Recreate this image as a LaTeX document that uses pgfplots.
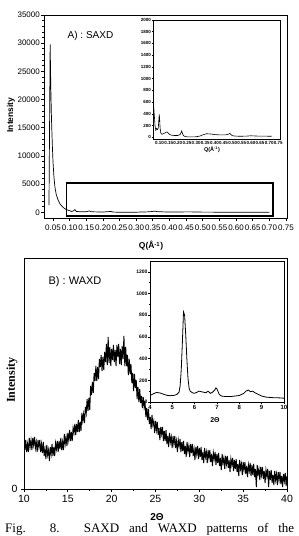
\documentclass[border=0pt]{standalone}
\usepackage{fontspec}
\setmainfont{Liberation Sans}
\newfontfamily\timesfont{Liberation Serif}
\usepackage{pgfplots}
\pgfplotsset{compat=1.18}

\begin{document}
\begin{tikzpicture}[x=1pt,y=1pt]
% ---------------- Panel A : SAXD (main) ----------------
\begin{axis}[
  at={(44pt,318pt)}, anchor=south west, scale only axis,
  width=243pt, height=203pt,
  xmin=0.023, xmax=0.753, ymin=-1000, ymax=35000,
  axis line style={line width=0.9pt},
  tick align=outside, xtick pos=left, ytick pos=left,
  major tick length=3pt, minor tick length=1.6pt,
  every tick/.style={black, line width=0.7pt},
  /pgf/number format/assume math mode=true,
  /pgf/number format/set thousands separator={},
  scaled y ticks=false, scaled x ticks=false,
  ytick={0,5000,10000,15000,20000,25000,30000,35000},
  minor y tick num=4,
  xtick={0.05,0.10,0.15,0.20,0.25,0.30,0.35,0.40,0.45,0.50,0.55,0.60,0.65,0.70,0.75},
  xticklabels={0.05,0.10,0.15,0.20,0.25,0.30,0.35,0.40,0.45,0.50,0.55,0.60,0.65,0.70,0.75},
  tick label style={font=\fontsize{8}{8}\selectfont},
  xticklabel style={inner xsep=0pt},
  yticklabel style={inner xsep=1pt},
]
\addplot[black, line width=0.7pt] coordinates {
(0.038,1300) (0.0415,29800) (0.0435,22000) (0.0455,16500) (0.048,12000) (0.050,9000)
(0.053,6200) (0.056,4400) (0.060,3100) (0.066,2100) (0.072,1400) (0.081,850)
(0.090,480) (0.100,300) (0.105,160) (0.110,220) (0.116,480) (0.120,160)
(0.130,120) (0.150,100) (0.159,260) (0.165,100) (0.200,60) (0.225,160)
(0.230,50) (0.250,20) (0.300,30) (0.340,100) (0.356,220) (0.365,110)
(0.400,60) (0.460,90) (0.500,40) (0.600,30) (0.700,20)};
\addplot[black, line width=1.3pt] coordinates {
(0.090,-650) (0.711,-650) (0.711,5200) (0.090,5200) (0.090,-650)};
\end{axis}
% ---------------- Panel A inset ----------------
\begin{axis}[
  at={(153pt,397pt)}, anchor=south west, scale only axis,
  width=127pt, height=119pt,
  xmin=0.064, xmax=0.759, ymin=-30, ymax=2000,
  axis background/.style={fill=white},
  axis line style={line width=0.9pt},
  tick align=outside, xtick pos=left, ytick pos=left,
  major tick length=1.5pt, minor tick length=0.8pt,
  every tick/.style={black, line width=0.5pt},
  /pgf/number format/assume math mode=true,
  /pgf/number format/set thousands separator={},
  scaled y ticks=false, scaled x ticks=false,
  ytick={0,200,400,600,800,1000,1200,1400,1600,1800,2000},
  xtick={0.10,0.15,0.20,0.25,0.30,0.35,0.40,0.45,0.50,0.55,0.60,0.65,0.70,0.75},
  xticklabels={0.10,0.15,0.20,0.25,0.30,0.35,0.40,0.45,0.50,0.55,0.60,0.65,0.70,0.75},
  tick label style={font=\bfseries\fontsize{4.5}{4.5}\selectfont},
  xticklabel style={inner xsep=0pt, inner ysep=1pt},
  yticklabel style={inner xsep=0.5pt},
]
\addplot[black, line width=0.6pt] coordinates {
(0.065,620) (0.070,430) (0.075,200) (0.079,120) (0.083,150) (0.088,130)
(0.093,160) (0.096,300) (0.098,390) (0.100,330) (0.103,150) (0.107,70)
(0.112,50) (0.120,60) (0.130,75) (0.140,90) (0.148,70) (0.155,45)
(0.166,35) (0.180,30) (0.200,30) (0.212,45) (0.218,80) (0.221,105)
(0.225,70) (0.230,30) (0.240,10) (0.260,5) (0.280,5) (0.300,8)
(0.320,20) (0.340,45) (0.358,60) (0.380,55) (0.403,45) (0.430,40)
(0.460,40) (0.475,50) (0.485,65) (0.492,40) (0.500,25) (0.520,18)
(0.550,17) (0.580,20) (0.600,25) (0.620,22) (0.650,18) (0.680,18) (0.713,17)};
\end{axis}
% labels panel A
\node[font=\fontsize{10}{10}\selectfont] at (90.5pt,500pt) {A) : SAXD};
\node[rotate=90, font=\bfseries\fontsize{8.5}{9}\selectfont] at (11pt,421pt) {Intensity};
\node[font=\bfseries\fontsize{8.5}{9}\selectfont] at (151pt,290pt) {Q(Å\textsuperscript{-1})};
\node[font=\bfseries\fontsize{5.5}{6}\selectfont] at (212pt,386pt) {Q(Å\textsuperscript{-1})};

% ---------------- Panel B : WAXD (main) ----------------
\begin{axis}[
  at={(24pt,47pt)}, anchor=south west, scale only axis,
  width=263pt, height=231pt,
  xmin=10, xmax=40, ymin=0, ymax=231,
  axis line style={line width=0.9pt},
  tick align=outside, xtick pos=left, ytick pos=left,
  major tick length=3pt, minor tick length=2pt,
  every tick/.style={black, line width=0.7pt},
  /pgf/number format/assume math mode=true,
  xtick={10,15,20,25,30,35,40}, minor x tick num=1,
  ytick={0},
  tick label style={font=\fontsize{10.5}{10.5}\selectfont},
]
\addplot[black, line width=0.95pt] coordinates {
(10.0,47) (10.1,39) (10.2,49) (10.3,37) (10.4,45) (10.5,37) (10.6,51) (10.7,42) (10.8,49) (10.9,39)
(11.0,51) (11.1,44) (11.2,52) (11.3,41) (11.4,47) (11.5,37) (11.6,49) (11.7,42) (11.8,49) (11.9,37)
(12.0,45) (12.1,36) (12.2,47) (12.3,33) (12.4,40) (12.5,30) (12.6,44) (12.7,34) (12.8,39) (12.9,28)
(13.0,42) (13.1,35) (13.2,45) (13.3,33) (13.4,42) (13.5,33) (13.6,46) (13.7,40) (13.8,48) (13.9,37)
(14.0,48) (14.1,40) (14.2,51) (14.3,39) (14.4,47) (14.5,39) (14.6,55) (14.7,45) (14.8,52) (14.9,43)
(15.0,56) (15.1,49) (15.2,59) (15.3,48) (15.4,57) (15.5,48) (15.6,61) (15.7,56) (15.8,65) (15.9,54)
(16.0,65) (16.1,57) (16.2,69) (16.3,57) (16.4,67) (16.5,58) (16.6,76) (16.7,68) (16.8,75) (16.9,66)
(17.0,82) (17.1,76) (17.2,90) (17.3,78) (17.4,91) (17.5,79) (17.6,103) (17.7,94) (17.8,107) (17.9,96)
(18.0,116) (18.1,108) (18.2,123) (18.3,108) (18.4,122) (18.5,110) (18.6,130) (18.7,122) (18.8,134) (18.9,118)
(19.0,132) (19.1,119) (19.2,137) (19.3,127) (19.4,145) (19.5,124) (19.6,152) (19.7,126) (19.8,142) (19.9,123)
(20.0,140) (20.1,129) (20.2,144) (20.3,127) (20.4,139) (20.5,123) (20.6,144) (20.7,132) (20.8,145) (20.9,125)
(21.0,140) (21.1,124) (21.2,143) (21.3,130) (21.4,153) (21.5,123) (21.6,142) (21.7,123) (21.8,134) (21.9,114)
(22.0,130) (22.1,115) (22.2,125) (22.3,106) (22.4,116) (22.5,98) (22.6,115) (22.7,101) (22.8,109) (22.9,90)
(23.0,102) (23.1,87) (23.2,100) (23.3,86) (23.4,93) (23.5,81) (23.6,92) (23.7,82) (23.8,88) (23.9,72)
(24.0,81) (24.1,69) (24.2,80) (24.3,65) (24.4,72) (24.5,60) (24.6,74) (24.7,64) (24.8,68) (24.9,56)
(25.0,68) (25.1,59) (25.2,67) (25.3,54) (25.4,61) (25.5,49) (25.6,62) (25.7,55) (25.8,62) (25.9,48)
(26.0,58) (26.1,48) (26.2,59) (26.3,45) (26.4,53) (26.5,42) (26.6,56) (26.7,47) (26.8,52) (26.9,41)
(27.0,53) (27.1,45) (27.2,53) (27.3,41) (27.4,48) (27.5,37) (27.6,49) (27.7,43) (27.8,50) (27.9,37)
(28.0,47) (28.1,38) (28.2,48) (28.3,35) (28.4,43) (28.5,32) (28.6,47) (28.7,38) (28.8,43) (28.9,32)
(29.0,45) (29.1,36) (29.2,45) (29.3,33) (29.4,40) (29.5,29) (29.6,42) (29.7,35) (29.8,43) (29.9,30)
(30.0,41) (30.1,32) (30.2,42) (30.3,29) (30.4,37) (30.5,26) (30.6,41) (30.7,32) (30.8,37) (30.9,26)
(31.0,39) (31.1,31) (31.2,39) (31.3,27) (31.4,35) (31.5,23) (31.6,36) (31.7,30) (31.8,37) (31.9,24)
(32.0,35) (32.1,26) (32.2,36) (32.3,23) (32.4,31) (32.5,19) (32.6,35) (32.7,26) (32.8,31) (32.9,20)
(33.0,33) (33.1,25) (33.2,33) (33.3,21) (33.4,29) (33.5,17) (33.6,30) (33.7,24) (33.8,31) (33.9,18)
(34.0,29) (34.1,20) (34.2,30) (34.3,17) (34.4,25) (34.5,13) (34.6,29) (34.7,20) (34.8,25) (34.9,14)
(35.0,27) (35.1,19) (35.2,27) (35.3,15) (35.4,23) (35.5,12) (35.6,24) (35.7,18) (35.8,26) (35.9,13)
(36.0,24) (36.1,14) (36.2,25) (36.3,12) (36.4,20) (36.5,2) (36.6,24) (36.7,15) (36.8,20) (36.9,9)
(37.0,22) (37.1,14) (37.2,22) (37.3,10) (37.4,18) (37.5,6) (37.6,19) (37.7,13) (37.8,20) (37.9,2)
(38.0,18) (38.1,9) (38.2,19) (38.3,6) (38.4,14) (38.5,4) (38.6,18) (38.7,9) (38.8,15) (38.9,4)
(39.0,17) (39.1,9) (39.2,17) (39.3,5) (39.4,13) (39.5,2) (39.6,15) (39.7,8) (39.8,16) (39.9,3)
(40.0,13)};
\end{axis}
% ---------------- Panel B inset ----------------
\begin{axis}[
  at={(150pt,134pt)}, anchor=south west, scale only axis,
  width=134pt, height=141pt,
  xmin=4, xmax=10, ymin=0, ymax=1300,
  axis background/.style={fill=white},
  axis line style={line width=0.9pt},
  tick align=outside, xtick pos=left, ytick pos=left,
  major tick length=1.8pt, minor tick length=1pt,
  every tick/.style={black, line width=0.5pt},
  /pgf/number format/assume math mode=true,
  /pgf/number format/set thousands separator={},
  scaled y ticks=false,
  ytick={0,200,400,600,800,1000,1200}, minor y tick num=1,
  xtick={4,5,6,7,8,9,10}, minor x tick num=1,
  yticklabel style={font=\bfseries\fontsize{5}{5}\selectfont, inner xsep=0.5pt},
  xticklabel style={font=\bfseries\fontsize{6}{6}\selectfont, inner ysep=1.5pt},
]
\addplot[black, line width=0.8pt] coordinates {
(4.0,60) (4.1,70) (4.2,80) (4.3,88) (4.4,85) (4.5,80) (4.6,72) (4.7,65)
(4.8,60) (4.9,58) (5.0,60) (5.1,62) (5.2,70) (5.3,90) (5.35,150) (5.4,300)
(5.45,550) (5.5,830) (5.55,800) (5.6,620) (5.65,400) (5.7,220) (5.75,130)
(5.8,100) (5.9,85) (6.0,80) (6.1,90) (6.2,100) (6.3,95) (6.4,90) (6.5,85)
(6.6,100) (6.7,80) (6.8,90) (6.9,110) (6.95,130) (7.0,120) (7.1,70) (7.2,55)
(7.4,50) (7.6,50) (7.8,55) (8.0,60) (8.2,80) (8.3,100) (8.4,110) (8.5,95)
(8.6,100) (8.7,85) (8.8,75) (9.0,55) (9.2,45) (9.5,40) (9.8,38) (10.0,35)};
\end{axis}
% labels panel B
\node[font=\fontsize{11}{11}\selectfont] at (75pt,254pt) {B) : WAXD};
\node[rotate=90, font=\timesfont\bfseries\fontsize{12}{12}\selectfont] at (12pt,156pt) {Intensity};
\node[font=\bfseries\fontsize{10}{10}\selectfont] at (157pt,18.5pt) {2Θ};
\node[font=\bfseries\fontsize{7}{7}\selectfont] at (215pt,116pt) {2Θ};
% caption
\node[anchor=base west, inner sep=0pt, font=\timesfont\fontsize{13}{13}\selectfont] at (5pt,3pt)
  {\makebox[289pt][s]{Fig. 8. SAXD and WAXD patterns of the}};
\pgfresetboundingbox
\useasboundingbox (0pt,0pt) rectangle (298pt,536pt);
\end{tikzpicture}
\end{document}
